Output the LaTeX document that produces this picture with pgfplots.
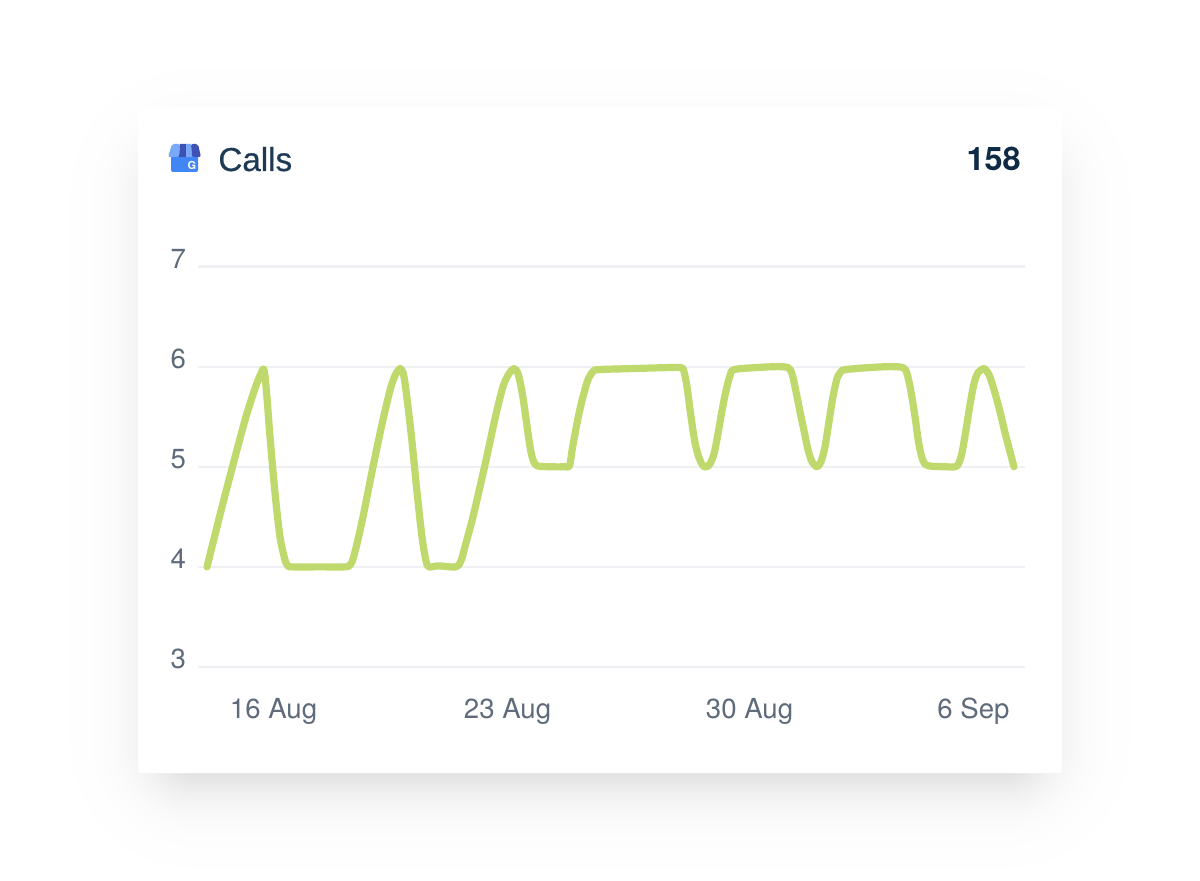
\documentclass[border=0pt]{standalone}
\usepackage{pgfplots}
\pgfplotsset{compat=1.18}
\usepackage{fontspec}
\setmainfont{TeX Gyre Heros}
\newfontfamily\medfont[FakeBold=0.5]{Liberation Sans}
\definecolor{linegreen}{HTML}{BFD96C}
\definecolor{gridc}{HTML}{EEF0F3}
\definecolor{tickc}{HTML}{5F6B7A}
\definecolor{titlec}{HTML}{1F3A54}
\definecolor{numc}{HTML}{0F2A44}
\pgfplotstableread{
x y
207 4.00
220 4.52
233 5.02
246 5.50
256 5.81
261 5.93
264 5.97
266.5 5.75
270 5.30
275 4.74
280 4.30
285 4.07
288 4.01
292 4.00
320 4.00
345 4.00
349 4.01
352 4.05
356 4.19
363 4.50
373 5.00
383 5.47
391 5.80
396 5.93
400.5 5.98
404 5.90
408 5.60
412 5.25
417 4.75
422 4.30
426 4.06
429 4.00
438 4.01
450 4.00
456 4.00
459 4.02
462 4.09
466 4.24
473 4.50
485 5.02
495 5.48
503 5.80
509 5.93
514 5.98
518 5.93
522 5.75
526 5.48
530 5.20
533 5.07
537 5.01
550 5.00
565 5.00
569.5 5.01
572 5.16
574.5 5.30
578.3 5.50
583 5.70
588 5.87
593 5.95
598 5.97
630 5.98
666 5.99
681 5.99
684 5.95
687 5.80
691 5.50
695 5.24
699 5.09
703 5.01
706.5 5.00
710 5.03
714 5.13
718 5.33
722 5.56
726 5.76
730 5.91
734 5.97
755 5.99
777 6.00
788 5.99
792 5.93
796 5.75
800 5.55
804 5.36
808 5.17
812 5.05
817 5.00
821 5.05
825 5.20
829 5.45
833 5.70
837 5.88
841 5.95
845 5.97
868 5.99
890 6.00
903 5.99
907 5.93
911 5.75
915 5.50
919 5.22
923 5.06
928 5.01
945 5.00
955 5.00
958.5 5.03
962 5.14
966 5.37
970 5.62
974 5.83
978 5.94
984 5.98
989 5.92
994 5.77
1000 5.55
1006 5.30
1014 5.00
}\callsdata
\begin{document}
\begin{tikzpicture}
\path[use as bounding box] (0,0) rectangle (600pt,440pt);
\begin{scope}[x=0.5pt,y=-0.5pt,yshift=440pt]
  % soft shadow: logistic spread of layers, like a blur
  \foreach \i in {1,...,60}{
    \pgfmathsetmacro{\p}{(\i-0.5)/60}
    \pgfmathsetmacro{\g}{20*ln(\p/(1-\p))}
    \pgfmathsetmacro{\r}{max(2,(30+\g)*0.5)}
    \fill[black,opacity=0.0037,rounded corners=\r pt]
      (166-\g,164-\g) rectangle (1034+\g,773+\g);
  }
  \fill[white,rounded corners=1.5pt] (138,107) rectangle (1062,773);
  % icon
  \fill[fill={rgb,255:red,66;green,133;blue,244},rounded corners=1pt] (171,155) rectangle (198,172);
  \fill[fill={rgb,255:red,122;green,170;blue,245},rounded corners=1pt] (172,144) -- (180,144) -- (179,157) -- (168,157) -- cycle;
  \fill[fill={rgb,255:red,63;green,81;blue,181}] (180,144) -- (186,144) -- (186,157) -- (179,157) -- cycle;
  \fill[fill={rgb,255:red,122;green,170;blue,245}] (186,144) -- (191,144) -- (192,157) -- (186,157) -- cycle;
  \fill[fill={rgb,255:red,63;green,81;blue,181},rounded corners=1pt] (191,144) -- (198,144) -- (201,157) -- (192,157) -- cycle;
  \node[text=white,font=\bfseries\fontsize{5.5pt}{6pt}\selectfont,inner sep=0] at (192,165) {G};
  % header
  \node[anchor=base west,inner sep=0,text=titlec,font=\medfont\fontsize{16.6pt}{20pt}\selectfont] at (218,171) {Calls};
  \node[anchor=base east,inner sep=0,text=numc,font=\bfseries\fontsize{16.2pt}{20pt}\selectfont] at (1021,171) {158};
\end{scope}
\begin{axis}[
  at={(99pt,106.5pt)},anchor=south west,
  scale only axis,
  width=413.5pt,height=200.25pt,
  xmin=198,xmax=1025,ymin=3,ymax=7,
  axis line style={draw=none},
  major tick length=0pt,
  ymajorgrids,
  grid style={gridc,line width=1.1pt},
  ytick={3,4,5,6,7},
  xtick={273.5,507.5,749.5,973.5},
  xticklabels={16 Aug,23 Aug,30 Aug,6 Sep},
  tick label style={font=\fontsize{13.8pt}{16pt}\selectfont,text=tickc},
  yticklabel style={/pgf/number format/assume math mode=true,yshift=4pt,xshift=-2.5pt},
  xticklabel style={yshift=-12pt},
  yticklabel={\pgfmathprintnumber{\tick}},
  clip=false,
]
\addplot[linegreen,line width=3.6pt,smooth,tension=0.5,line cap=round,line join=round] table[x=x,y=y] {\callsdata};
\end{axis}
\end{tikzpicture}
\end{document}
